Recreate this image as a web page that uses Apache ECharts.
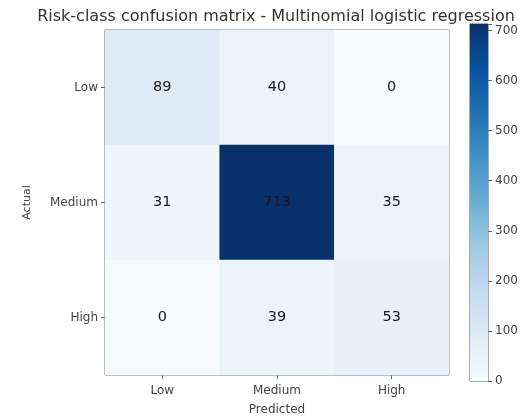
<!DOCTYPE html>
<html>
<head>
<meta charset="utf-8">
<script src="https://cdn.jsdelivr.net/npm/echarts@6/dist/echarts.min.js"></script>
<style>
  html, body { margin: 0; padding: 0; background: #fff; }
  #chart { width: 529px; height: 417px; }
</style>
</head>
<body>
<div id="chart"></div>
<script>
var predicted = ['Low', 'Medium', 'High'];
var actual = ['Low', 'Medium', 'High'];
// rows = actual, cols = predicted
var counts = [
    [89, 40, 0],
    [31, 713, 35],
    [0, 39, 53]
];
var colorTicks = [0, 100, 200, 300, 400, 500, 600, 700];

var blues = ['#f7fbff', '#deebf7', '#c6dbef', '#9ecae1', '#6baed6',
    '#4292c6', '#2171b5', '#08519c', '#08306b'];

var cells = [];
var maxVal = 0;
for (var r = 0; r < counts.length; ++r) {
    for (var c = 0; c < counts[r].length; ++c) {
        cells.push([c, r, counts[r][c]]);
        maxVal = Math.max(maxVal, counts[r][c]);
    }
}

var font = 'DejaVu Sans';
var stops = blues.map(function (col, i) {
    return { offset: i / (blues.length - 1), color: col };
});

var chart = echarts.init(document.getElementById('chart'));
chart.setOption({
    animation: false,
    title: {
        text: 'Risk-class confusion matrix - Multinomial logistic regression',
        left: 271,
        textAlign: 'center',
        top: 4,
        textStyle: { fontFamily: font, fontSize: 16, fontWeight: 'normal', color: '#333' }
    },
    grid: [
        { left: 105, top: 30, width: 344, height: 345, outerBoundsMode: 'none', show: true, borderColor: '#555', borderWidth: 1, backgroundColor: 'transparent' },
        { left: 470, top: 24, width: 18, height: 357, outerBoundsMode: 'none', show: true, borderColor: '#555', borderWidth: 1, backgroundColor: 'transparent' }
    ],
    xAxis: [{
        gridIndex: 0,
        type: 'category',
        data: predicted,
        name: 'Predicted',
        nameLocation: 'middle',
        nameGap: 29,
        nameTextStyle: { fontFamily: font, fontSize: 12, color: '#444' },
        axisLine: { show: false },
        axisTick: { show: true, alignWithLabel: true, length: 4, lineStyle: { color: '#666' } },
        axisLabel: { fontFamily: font, fontSize: 12, color: '#444', margin: 10 },
        splitLine: { show: false }
    }, {
        gridIndex: 1,
        type: 'category',
        data: ['scale'],
        show: false
    }],
    yAxis: [{
        gridIndex: 0,
        type: 'category',
        data: actual,
        inverse: true,
        name: 'Actual',
        nameLocation: 'middle',
        nameGap: 72,
        nameTextStyle: { fontFamily: font, fontSize: 11, color: '#444' },
        axisLine: { show: false },
        axisTick: { show: true, alignWithLabel: true, length: 4, lineStyle: { color: '#666' } },
        axisLabel: { fontFamily: font, fontSize: 12, color: '#444', margin: 7 },
        splitLine: { show: false }
    }, {
        gridIndex: 1,
        type: 'value',
        position: 'right',
        min: 0,
        max: maxVal,
        interval: 100,
        axisLine: { show: false },
        axisTick: { show: true, length: 4, lineStyle: { color: '#666' } },
        axisLabel: {
            fontFamily: font, fontSize: 12, color: '#444', margin: 7,
            formatter: function (v) { return colorTicks.indexOf(v) >= 0 ? v : ''; }
        },
        splitLine: { show: false }
    }],
    visualMap: {
        show: false,
        min: 0,
        max: maxVal,
        seriesIndex: 0,
        dimension: 2,
        inRange: { color: blues }
    },
    series: [{
        type: 'heatmap',
        xAxisIndex: 0,
        yAxisIndex: 0,
        data: cells,
        label: {
            show: true,
            fontFamily: font,
            fontSize: 14.5,
            color: '#1a1a1a',
            formatter: function (p) { return p.value[2]; }
        },
        itemStyle: { borderWidth: 0 }
    }, {
        type: 'bar',
        xAxisIndex: 1,
        yAxisIndex: 1,
        barWidth: '100%',
        data: [maxVal],
        itemStyle: {
            color: { type: 'linear', x: 0, y: 1, x2: 0, y2: 0, colorStops: stops }
        },
        silent: true
    }]
});
</script>
</body>
</html>
